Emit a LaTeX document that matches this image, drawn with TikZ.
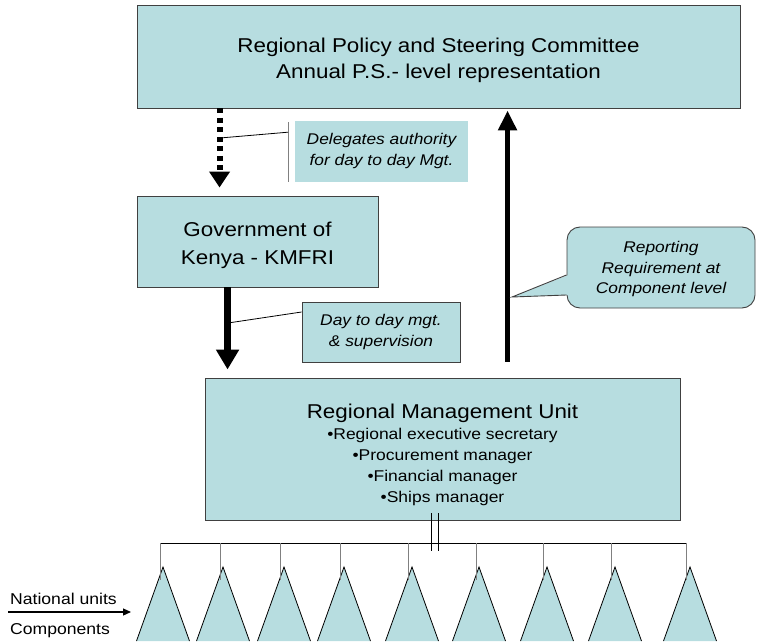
\documentclass[tikz,border=0pt]{standalone}
\usepackage{fontspec}
\setmainfont[FakeStretch=1.12]{Liberation Sans}
\usetikzlibrary{arrows.meta,calc}
\definecolor{boxfill}{RGB}{183,221,224}
\definecolor{boxline}{RGB}{64,64,64}
\begin{document}
\begin{tikzpicture}[x=1pt,y=1pt,
  box/.style={draw=boxline, line width=0.9pt, fill=boxfill, inner sep=0pt, align=center},
  fillbox/.style={fill=boxfill, inner sep=0pt, align=center},
  txt/.style={inner sep=0pt, align=center},
  note/.style={font=\fontsize{15.5}{21}\selectfont\itshape, align=center, inner sep=0pt},
  thin/.style={line width=0.8pt},
  dotarrow/.style={line width=6pt, dash pattern=on 5pt off 4.5pt, -{Triangle[width=20pt,length=16pt]}},
  solidarrow/.style={line width=7pt, -{Triangle[width=22pt,length=20pt]}},
  uparrow/.style={line width=5pt, -{Triangle[width=18pt,length=20pt]}},
  drop/.style={line width=0.9pt, draw=gray},
  tri/.style={fill=boxfill, draw=black, line width=0.8pt}
]
\useasboundingbox (0,0) rectangle (762,641);

% main boxes
\node[box, minimum width=603pt, minimum height=103pt] (top) at (438.5,584.5) {};
\node[txt, font=\fontsize{20}{26}\selectfont] (topt) at (438.5,581)
  {Regional Policy and Steering Committee\\Annual P.S.- level representation};
\node[box, minimum width=241pt, minimum height=91pt] (gov) at (257.5,399.5) {};
\node[txt, font=\fontsize{20}{28}\selectfont] (govt) at (257.5,395.5)
  {Government of\\Kenya - KMFRI};
\node[box, minimum width=475pt, minimum height=142pt] (rmu) at (442.5,192) {};
\node[txt, font=\fontsize{15.6}{21}\selectfont] (rmut) at (442.5,186.5)
  {{\fontsize{20}{23}\selectfont Regional Management Unit}\\
   •Regional executive secretary\\
   •Procurement manager\\
   •Financial manager\\
   •Ships manager};

% callout 1
\node[fillbox, minimum width=173pt, minimum height=61pt] (c1) at (381.5,489.5) {};
\node[note] (c1t) at (381.5,490) {Delegates authority\\for day to day Mgt.};
\coordinate (c1a) at (288,459);
\coordinate (c1b) at (288,519);
\draw[drop] (c1a) -- (c1b);
\coordinate (c1s) at (220,503);
\draw[thin] (c1s) -- ($(c1a)!0.83!(c1b)$);

% dotted arrow
\draw[dotarrow] ([xshift=83pt]top.south west) -- ([xshift=83pt,yshift=8pt]gov.north west);

% solid arrow
\draw[solidarrow] ([xshift=91pt]gov.south west) -- ([xshift=23pt,yshift=8pt]rmu.north west);

% callout 2
\node[box, note, minimum width=158pt, minimum height=60pt] (c2) at (381,309)
  {Day to day mgt.\\\& supervision};
\coordinate (c2s) at (228,318);
\draw[thin] (c2s) -- ([yshift=20pt]c2.west);

% up arrow
\draw[uparrow] ([xshift=303pt,yshift=16pt]rmu.north west) -- ([xshift=371pt,yshift=-2pt]top.south west);

% callout 3
\node[draw=boxline, line width=0.9pt, fill=boxfill, rounded corners=13pt,
      minimum width=188pt, minimum height=81pt, inner sep=0pt] (rep) at (661,373.5) {};
\coordinate (tip) at (512,344);
\coordinate (b1) at ([yshift=-7.5pt]rep.west);
\coordinate (b2) at ([yshift=-27.5pt]rep.west);
\fill[boxfill] (tip) -- ([xshift=2pt]b1) -- ([xshift=2pt]b2) -- cycle;
\draw[draw=boxline, line width=0.9pt] (b1) -- (tip) -- (b2);
\node[note, font=\fontsize{15.5}{20.5}\selectfont\itshape] (rept) at (661,372) {Reporting\\Requirement at\\Component level};

% bus
\coordinate (busL) at (160,98);
\coordinate (busR) at (687,98);
\draw[thin] (busL) -- (busR);
\draw[thin] ([xshift=-11.5pt,yshift=7pt]rmu.south) -- ++(0,-38);
\draw[thin] ([xshift=-4.5pt,yshift=7pt]rmu.south) -- ++(0,-38);

% triangles
\foreach \d/\a [count=\i] in {160/163, 220/223, 280/284, 340/344, 408/412, 476/479, 543/547, 611/615, 686/690}{
  \coordinate (apex\i) at (\a,74);
  \fill[boxfill] (\a-26.5,0) -- (apex\i) -- (\a+26.5,0) -- cycle;
  \draw[thin] (\a-26.5,0) -- (apex\i) -- (\a+26.5,0);
  \coordinate (dtop\i) at (\d,98);
  \draw[drop] (dtop\i) -- (\d,61);
}

% left legend
\node[anchor=base west, inner sep=0pt, font=\fontsize{15.7}{17}\selectfont] (nu) at (10,37) {National units};
\node[anchor=base west, inner sep=0pt, font=\fontsize{15.7}{17}\selectfont] (cp) at (10,7) {Components};
\coordinate (la) at (8,29);
\coordinate (lb) at (131,29);
\draw[line width=1.2pt, -{Triangle[width=7pt,length=8pt]}] (la) -- (lb);
\end{tikzpicture}
\end{document}
